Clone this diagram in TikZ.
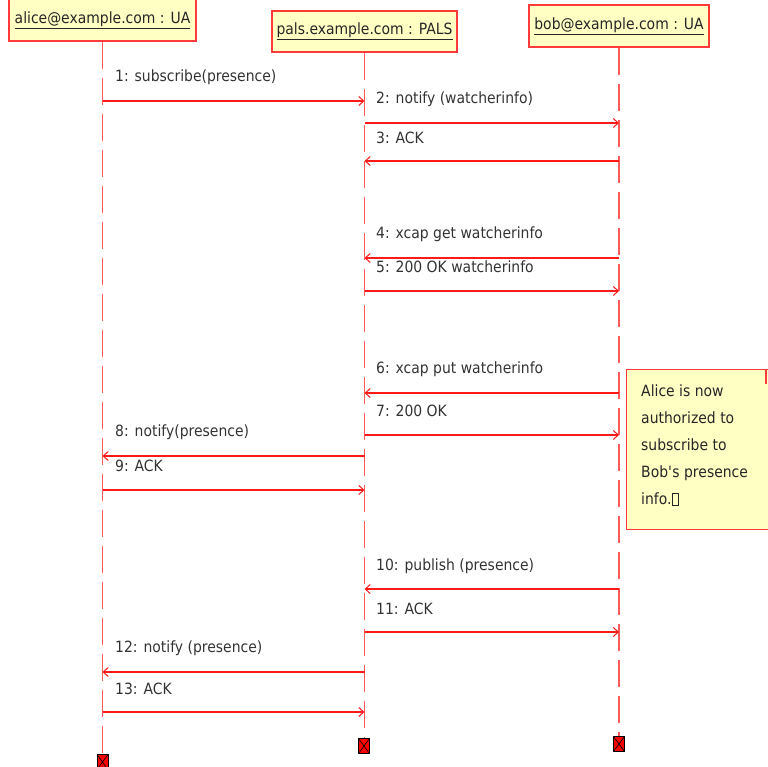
\documentclass[tikz,border=0pt]{standalone}
\usepackage{fontspec}
\setmainfont{DejaVu Sans}[FakeStretch=0.9]
\usetikzlibrary{arrows.meta}
\definecolor{lred}{HTML}{FF3A3A}
\definecolor{lifered}{HTML}{FF5A5A}
\definecolor{notey}{HTML}{FFFFC4}
\definecolor{txt}{HTML}{333333}
\begin{document}
\begin{tikzpicture}[x=1pt,y=-1pt,
  head/.style={draw=lred,fill=notey,line width=1.3pt,inner sep=0pt,text=black!85,font=\fontsize{15.5}{18}\selectfont},
  life/.style={draw=lifered,line width=1.6pt,dash pattern=on 27pt off 9pt},
  msg/.style={draw=red!90!white,line width=1.2pt,-{Straight Barb[length=5pt,width=9pt,line width=1pt]}},
  lbl/.style={anchor=west,inner sep=0pt,text=txt,font=\fontsize{15.5}{18}\selectfont},
  destroy/.style={draw=black,fill=red,line width=0.9pt,minimum width=11pt,minimum height=15pt,inner sep=0pt,
    path picture={\draw[black,line width=0.6pt] (path picture bounding box.north west) -- (path picture bounding box.south east)
      (path picture bounding box.north east) -- (path picture bounding box.south west);}}]
\useasboundingbox (0,0) rectangle (767,767);
% heads
\node[head,minimum width=187pt,minimum height=42pt] (alice) at (102.5,20) {\underline{alice@example.com : UA}};
\node[head,minimum width=185pt,minimum height=41pt] (pals) at (364.5,31.5) {\underline{pals.example.com : PALS}};
\node[head,minimum width=180pt,minimum height=42pt] (bob) at (619,26) {\underline{bob@example.com : UA}};
% lifeline ends
\coordinate (aend) at (alice.south |- 0,755);
\coordinate (pend) at (pals.south |- 0,739);
\coordinate (bend) at (bob.south |- 0,737);
\draw[life] (alice.south) -- (aend);
\draw[life] (pals.south) -- (pend);
\draw[life] (bob.south) -- (bend);
\node[destroy] (ax) at (102.5,762) {};
\node[destroy] (px) at (364,746) {};
\node[destroy] (bx) at (619,744) {};
% messages
\foreach \n/\f/\t/\y in {1/alice/pals/101, 2/pals/bob/123, 3/bob/pals/161, 4/bob/pals/258, 5/pals/bob/291,
  6/bob/pals/393, 7/pals/bob/435, 8/pals/alice/456, 9/alice/pals/490, 10/bob/pals/589, 11/pals/bob/632,
  12/pals/alice/672, 13/alice/pals/712}{
  \coordinate (s\n) at (\f.south |- 0,\y);
  \coordinate (e\n) at (\t.south |- 0,\y);
  \draw[msg] (s\n) -- (e\n);
}
\node[lbl] (l1) at (115,77) {1: subscribe(presence)};
\node[lbl] (l2) at (376,99) {2: notify (watcherinfo)};
\node[lbl] (l3) at (376,138) {3: ACK};
\node[lbl] (l4) at (376,234) {4: xcap get watcherinfo};
\node[lbl] (l5) at (376,267) {5: 200 OK watcherinfo};
\node[lbl] (l6) at (376,369) {6: xcap put watcherinfo};
\node[lbl] (l7) at (376,411) {7: 200 OK};
\node[lbl] (l8) at (115,432) {8: notify(presence)};
\node[lbl] (l9) at (115,466) {9: ACK};
\node[lbl] (l10) at (376,566) {10: publish (presence)};
\node[lbl] (l11) at (376,609) {11: ACK};
\node[lbl] (l12) at (115,648) {12: notify (presence)};
\node[lbl] (l13) at (115,689) {13: ACK};
% note
\node[draw=lred,fill=notey,line width=1.3pt,anchor=north west,minimum width=150pt,minimum height=160pt,inner sep=0pt] (note) at (626,369) {};
\coordinate (fold) at (766,384);
\draw[draw=lred,line width=1.3pt] (note.north west -| fold) -- (fold);
\node[anchor=north west,align=left,inner sep=0pt,text=black!85,font=\fontsize{15.5}{27}\selectfont] (notetext) at (641,385)
  {Alice is now\\authorized to\\subscribe to\\Bob\textquotesingle s presence\\info.{\setlength\fboxsep{0pt}\setlength\fboxrule{1pt}\fbox{\rule{0pt}{11pt}\hspace{5pt}}}};
\end{tikzpicture}
\end{document}
